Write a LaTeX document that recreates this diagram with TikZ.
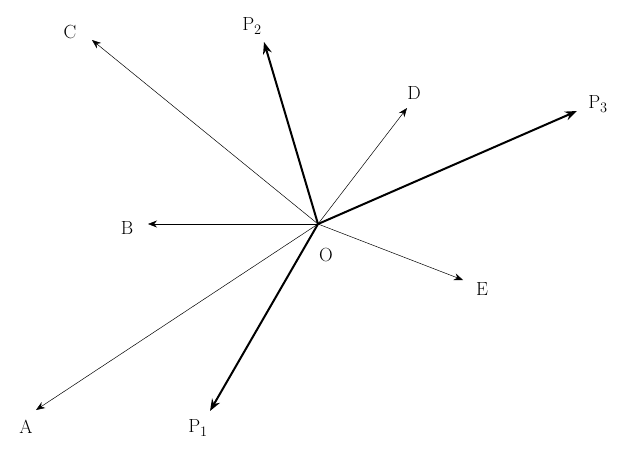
\documentclass[tikz,border=0pt]{standalone}
\usetikzlibrary{arrows.meta}
\begin{document}
\begin{tikzpicture}[x=1pt,y=-1pt,
  vthin/.style={line width=0.5pt,-{Stealth[length=9pt,width=7pt]}},
  vthick/.style={line width=2pt,-{Stealth[length=12pt,width=9pt]}},
  lab/.style={font=\fontsize{19}{22}\selectfont,inner sep=0pt}]
\useasboundingbox (0,0) rectangle (620,452);
\coordinate (O) at (318,224);
\node[lab] (lO) at (326,255) {O};
\node[lab] (lA) at (26,427) {A};
\node[lab] (lB) at (127,228) {B};
\node[lab] (lC) at (70,32) {C};
\node[lab] (lD) at (414,93) {D};
\node[lab] (lE) at (482,289) {E};
\node[lab] (lP1) at (198,428) {P$_1$};
\node[lab] (lP2) at (252,26) {P$_2$};
\node[lab] (lP3) at (598,104) {P$_3$};
\coordinate (A) at (36,410);
\coordinate (B) at (148,224);
\coordinate (C) at (92,40);
\coordinate (D) at (407,108);
\coordinate (E) at (463,280);
\coordinate (P1) at (210,411);
\coordinate (P2) at (264,42);
\coordinate (P3) at (577,111);
\foreach \t in {A,B,C,D,E} \draw[vthin] (O) -- (\t);
\foreach \t in {P1,P2,P3} \draw[vthick] (O) -- (\t);
\end{tikzpicture}
\end{document}
